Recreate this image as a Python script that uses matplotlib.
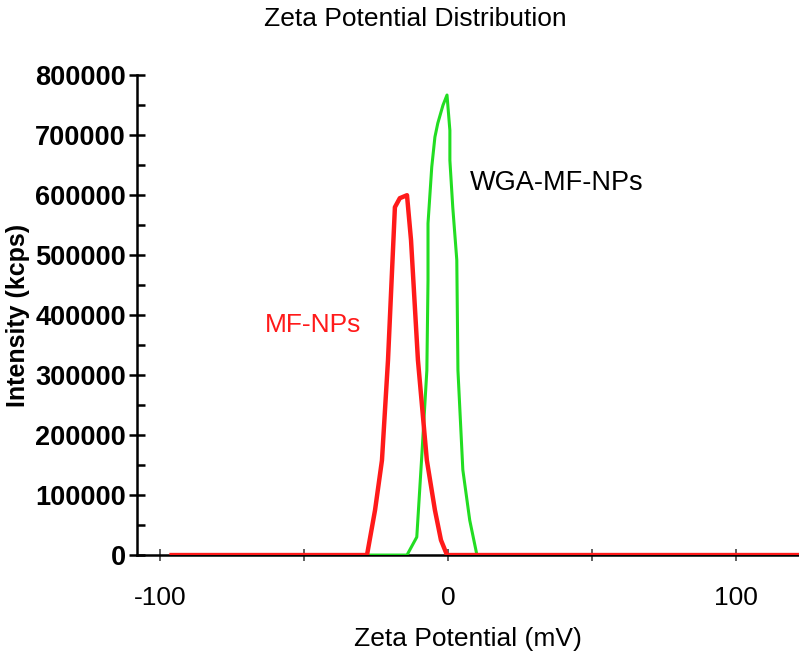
import matplotlib.pyplot as plt
from matplotlib.ticker import MultipleLocator

# MF-NPs (red) trace, zeta potential (mV) vs intensity (kcps)
mf_x = [-96, -28.1, -25.3, -22.9, -20.8, -18.4, -16.7, -14.2, -12.8, -10.4, -7.3, -4.5, -2.4, -0.3, 122]
mf_y = [0, 0, 75000, 158000, 325000, 580000, 595000, 600000, 525000, 325000, 158000, 75000, 25000, 0, 0]

# WGA-MF-NPs (green) trace
wga_x = [-96, -14.2, -10.8, -9.0, -7.3, -6.9, -6.9, -5.6, -4.5, -3.5, -1.7, -0.3,
         0.7, 0.7, 1.7, 3.1, 3.5, 5.2, 7.6, 10.1, 122]
wga_y = [0, 0, 30000, 170000, 308000, 458000, 553000, 647000, 697000, 720000, 750000, 767000,
         708000, 658000, 580000, 492000, 308000, 142000, 58000, 0, 0]

yticks = [0, 100000, 200000, 300000, 400000, 500000, 600000, 700000, 800000]
xticks = [-100, 0, 100]

plt.rcParams['font.family'] = ['Liberation Sans', 'DejaVu Sans']

fig = plt.figure(figsize=(7.99, 6.6), dpi=100)
ax = fig.add_axes([0.1715, 0.159, 0.8285, 0.727])

ax.plot(wga_x, wga_y, color='#22dd22', lw=2.2, zorder=3)
ax.plot(mf_x, mf_y, color='#ff1a1a', lw=3.2, zorder=4)

ax.set_xlim(-108, 122)
ax.set_ylim(0, 800000)

for s in ['top', 'right']:
    ax.spines[s].set_visible(False)
ax.spines['left'].set_linewidth(1.8)
ax.spines['bottom'].set_linewidth(1.8)

ax.set_yticks(yticks)
ax.set_yticklabels([str(v) for v in yticks], fontsize=19.5, fontweight='bold')
ax.yaxis.set_minor_locator(MultipleLocator(50000))
ax.tick_params(axis='y', which='major', direction='inout', length=12, width=1.8, pad=2)
ax.tick_params(axis='y', which='minor', direction='in', length=6, width=1.8)

ax.set_xticks(xticks)
ax.set_xticklabels([str(v) for v in xticks], fontsize=19)
ax.xaxis.set_minor_locator(MultipleLocator(50))
ax.tick_params(axis='x', which='both', direction='inout', length=9, width=1.2, pad=18, color='#444444')

ax.set_ylabel('Intensity (kcps)', fontsize=18, fontweight='bold', labelpad=4)
ax.set_xlabel('Zeta Potential (mV)', fontsize=19, labelpad=12)
fig.suptitle('Zeta Potential Distribution', fontsize=19, x=0.52, y=0.99)

ax.text(7.6, 620000, 'WGA-MF-NPs', fontsize=19.5, color='black', va='center')
ax.text(-63.5, 383000, 'MF-NPs', fontsize=19, color='#ff1a1a', va='center')

fig.savefig('out.png', dpi=100)
